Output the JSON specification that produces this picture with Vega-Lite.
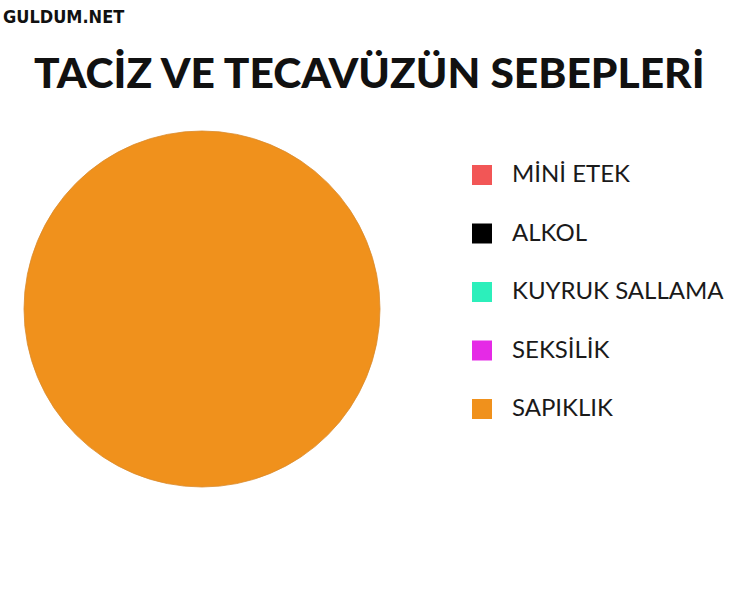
{
  "$schema": "https://vega.github.io/schema/vega-lite/v6.json",
  "padding": {"left": 0, "top": 8, "right": 0, "bottom": 0},
  "background": "white",
  "title": {
    "text": "GULDUM.NET",
    "anchor": "start",
    "frame": "bounds",
    "font": "DejaVu Sans Condensed",
    "fontSize": 18,
    "fontWeight": "bold",
    "color": "#111111",
    "dx": 3,
    "offset": 27
  },
  "vconcat": [
    {
      "data": {
        "values": [
          {"sebep": "MİNİ ETEK", "oran": 0},
          {"sebep": "ALKOL", "oran": 0},
          {"sebep": "KUYRUK SALLAMA", "oran": 0},
          {"sebep": "SEKSİLİK", "oran": 0},
          {"sebep": "SAPIKLIK", "oran": 100}
        ]
      },
      "title": {
        "text": "TACİZ VE TECAVÜZÜN SEBEPLERİ",
        "anchor": "start",
        "frame": "group",
        "dx": 34,
        "font": "Lato",
        "fontSize": 42.5,
        "fontWeight": 900,
        "color": "#111111",
        "offset": 33
      },
      "width": 404,
      "height": 356,
      "view": {"stroke": null},
      "mark": {"type": "arc", "outerRadius": 178, "stroke": "#d98a2c", "strokeWidth": 0.8},
      "encoding": {
        "x": {"datum": 0, "type": "quantitative", "scale": {"domain": [-1, 1]}, "axis": null},
        "y": {"datum": 0, "type": "quantitative", "scale": {"domain": [-1, 1]}, "axis": null},
        "theta": {"field": "oran", "type": "quantitative", "stack": true},
        "order": {"field": "oran", "sort": "descending"},
        "color": {
          "field": "sebep",
          "type": "nominal",
          "title": null,
          "scale": {
            "domain": ["MİNİ ETEK", "ALKOL", "KUYRUK SALLAMA", "SEKSİLİK", "SAPIKLIK"],
            "range": ["#f25656", "#000000", "#2cefbb", "#e52ae6", "#f0911c"]
          },
          "legend": {
            "orient": "none",
            "legendX": 470,
            "legendY": 32,
            "padding": 0,
            "symbolType": "square",
            "symbolSize": 400,
            "symbolStrokeWidth": 0,
            "symbolOpacity": 1,
            "labelFont": "Lato",
            "labelFontSize": 24,
            "labelFontWeight": 400,
            "labelColor": "#1a1a1a",
            "labelOffset": 18,
            "labelLimit": 300,
            "rowPadding": 34.5
          }
        }
      }
    }
  ]
}
